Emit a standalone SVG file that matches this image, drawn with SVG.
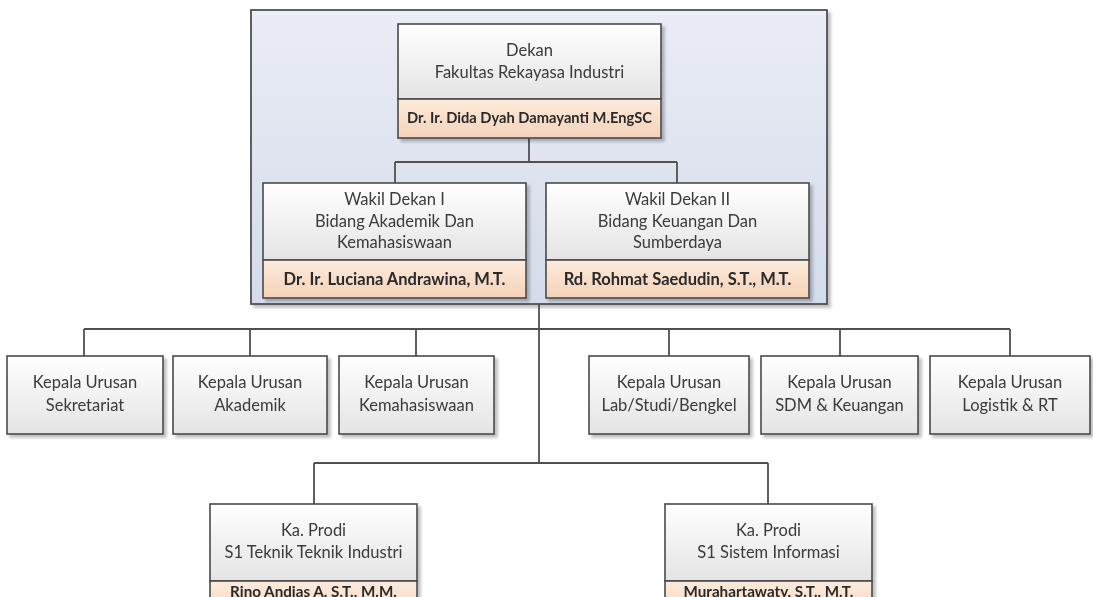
<svg xmlns="http://www.w3.org/2000/svg" width="1093" height="597" viewBox="0 0 1093 597">
<defs>
<linearGradient id="gTop" x1="0" y1="0" x2="0" y2="1">
<stop offset="0" stop-color="#ffffff"/>
<stop offset="1" stop-color="#e4e4e4"/>
</linearGradient>
<linearGradient id="gName" x1="0" y1="0" x2="0" y2="1">
<stop offset="0" stop-color="#fdebdd"/>
<stop offset="1" stop-color="#f4d2b8"/>
</linearGradient>
<linearGradient id="gCont" x1="0" y1="0" x2="0" y2="1">
<stop offset="0" stop-color="#eaedf5"/>
<stop offset="1" stop-color="#d4dbeb"/>
</linearGradient>
<filter id="sh" x="-5%" y="-5%" width="115%" height="120%">
<feGaussianBlur in="SourceAlpha" stdDeviation="1.5"/>
<feOffset dx="3" dy="3" result="b"/>
<feComponentTransfer><feFuncA type="linear" slope="0.25"/></feComponentTransfer>
<feMerge><feMergeNode/><feMergeNode in="SourceGraphic"/></feMerge>
</filter>
</defs>
<style>
.box{stroke:#4a4a4a;stroke-width:1.6;}
.top{fill:url(#gTop);}
.name{fill:url(#gName);}
.cont{fill:url(#gCont);stroke:#505050;stroke-width:1.8;}
.t{font-family:Lato,"Liberation Sans",sans-serif;font-size:16.5px;fill:#3a3a3a;text-anchor:middle;}
.n{font-family:Lato,"Liberation Sans",sans-serif;font-size:14.7px;font-weight:bold;fill:#2a2a2a;text-anchor:middle;}
.n2{font-family:Lato,"Liberation Sans",sans-serif;font-size:16.5px;font-weight:bold;fill:#2a2a2a;text-anchor:middle;}
.n3{font-family:Lato,"Liberation Sans",sans-serif;font-size:15.2px;font-weight:bold;fill:#2a2a2a;text-anchor:middle;}
.c{fill:none;stroke:#505050;stroke-width:1.8;}
</style>

<g id="container">
<rect class="cont" x="251" y="10" width="576" height="294" filter="url(#sh)"/>
</g>

<g id="connectors">
<path class="c" d="M529,138 V162 M395,162 H677 M395,162 V183 M677,162 V183"/>
<path class="c" d="M539,304 V463 M84,329 H1010 M84,329 V356 M250,329 V356 M416,329 V356 M669,329 V356 M840,329 V356 M1010,329 V356"/>
<path class="c" d="M314,463 H768 M314,463 V504 M768,463 V504"/>
</g>

<g id="dekan" filter="url(#sh)">
<rect class="box top" x="398" y="24" width="263" height="75"/>
<rect class="box name" x="398" y="99" width="263" height="39"/>
<text class="t" x="529.5" y="56">Dekan</text>
<text class="t" x="529.5" y="78">Fakultas Rekayasa Industri</text>
<text class="n" x="529.5" y="123">Dr. Ir. Dida Dyah Damayanti M.EngSC</text>
</g>

<g id="wakil1" filter="url(#sh)">
<rect class="box top" x="263" y="183" width="263" height="77"/>
<rect class="box name" x="263" y="260" width="263" height="38"/>
<text class="t" x="394.5" y="205">Wakil Dekan I</text>
<text class="t" x="394.5" y="227">Bidang Akademik Dan</text>
<text class="t" x="394.5" y="248">Kemahasiswaan</text>
<text class="n2" x="394.5" y="285">Dr. Ir. Luciana Andrawina, M.T.</text>
</g>

<g id="wakil2" filter="url(#sh)">
<rect class="box top" x="546" y="183" width="263" height="77"/>
<rect class="box name" x="546" y="260" width="263" height="38"/>
<text class="t" x="677.5" y="205">Wakil Dekan II</text>
<text class="t" x="677.5" y="227">Bidang Keuangan Dan</text>
<text class="t" x="677.5" y="248">Sumberdaya</text>
<text class="n2" x="677.5" y="285">Rd. Rohmat Saedudin, S.T., M.T.</text>
</g>

<g id="kaur-sekretariat" filter="url(#sh)">
<rect class="box top" x="7" y="356" width="156" height="78"/>
<text class="t" x="85" y="388">Kepala Urusan</text>
<text class="t" x="85" y="411">Sekretariat</text>
</g>

<g id="kaur-akademik" filter="url(#sh)">
<rect class="box top" x="173" y="356" width="154" height="78"/>
<text class="t" x="250" y="388">Kepala Urusan</text>
<text class="t" x="250" y="411">Akademik</text>
</g>

<g id="kaur-kemahasiswaan" filter="url(#sh)">
<rect class="box top" x="339" y="356" width="155" height="78"/>
<text class="t" x="416.5" y="388">Kepala Urusan</text>
<text class="t" x="416.5" y="411">Kemahasiswaan</text>
</g>

<g id="kaur-lab" filter="url(#sh)">
<rect class="box top" x="589" y="356" width="160" height="78"/>
<text class="t" x="669" y="388">Kepala Urusan</text>
<text class="t" x="669" y="411">Lab/Studi/Bengkel</text>
</g>

<g id="kaur-sdm" filter="url(#sh)">
<rect class="box top" x="761" y="356" width="157" height="78"/>
<text class="t" x="839.5" y="388">Kepala Urusan</text>
<text class="t" x="839.5" y="411">SDM &amp; Keuangan</text>
</g>

<g id="kaur-logistik" filter="url(#sh)">
<rect class="box top" x="930" y="356" width="160" height="78"/>
<text class="t" x="1010" y="388">Kepala Urusan</text>
<text class="t" x="1010" y="411">Logistik &amp; RT</text>
</g>

<g id="kaprodi-ti" filter="url(#sh)">
<rect class="box top" x="210" y="504" width="207" height="77"/>
<rect class="box name" x="210" y="581" width="207" height="40"/>
<text class="t" x="313.5" y="536">Ka. Prodi</text>
<text class="t" x="313.5" y="558">S1 Teknik Teknik Industri</text>
<text class="n3" x="313.5" y="597">Rino Andias A. S.T., M.M.</text>
</g>

<g id="kaprodi-si" filter="url(#sh)">
<rect class="box top" x="665" y="504" width="207" height="77"/>
<rect class="box name" x="665" y="581" width="207" height="40"/>
<text class="t" x="768.5" y="536">Ka. Prodi</text>
<text class="t" x="768.5" y="558">S1 Sistem Informasi</text>
<text class="n3" x="768.5" y="597">Murahartawaty, S.T., M.T.</text>
</g>
</svg>
